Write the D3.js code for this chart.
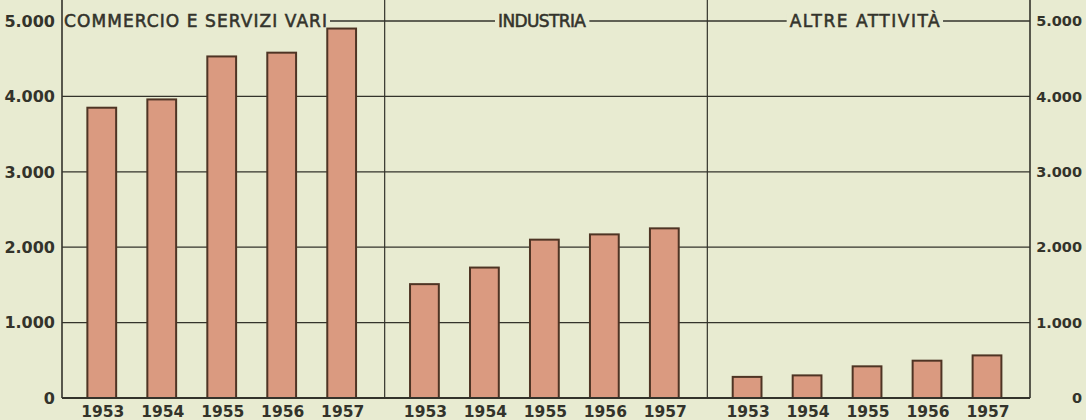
<!DOCTYPE html>
<html><head><meta charset="utf-8">
<script src="https://cdn.jsdelivr.net/npm/d3@7"></script>
<style>
html,body{margin:0;padding:0;background:#e8ebd1;}
svg{display:block;}
</style></head>
<body>
<svg id="chart" width="1086" height="420"></svg>
<script>
// ---- data ----
const panels = ["COMMERCIO E SERVIZI VARI", "INDUSTRIA", "ALTRE ATTIVITÀ"];
const years = ["1953", "1954", "1955", "1956", "1957"];
const commercio = [3850, 3960, 4530, 4580, 4900];
const industria = [1510, 1730, 2100, 2170, 2250];
const altre = [280, 300, 420, 495, 565];
const yTicks = [0, 1000, 2000, 3000, 4000, 5000];
const tickLabels = ["0", "1.000", "2.000", "3.000", "4.000", "5.000"];

const seriesByPanel = [commercio, industria, altre];

const W = 1086, H = 420;
const left = 62, right = 1030, base = 398, top5000 = 21;
const bg = "#e8ebd1", ink = "#33332b", barFill = "#da9a80", barStroke = "#4e3424";

const svg = d3.select("#chart");
svg.append("rect").attr("width", W).attr("height", H).attr("fill", bg);

const y = d3.scaleLinear().domain([0, 5000]).range([base, top5000]);
const xp = d3.scaleBand().domain(panels).range([left, right]).padding(0);
const xi = d3.scaleBand().domain(years).range([0, xp.bandwidth()])
  .paddingInner(0.52).paddingOuter(0.45).align(0.47);

// gridlines
svg.append("g").selectAll("line").data(yTicks.filter(d => d > 0)).join("line")
  .attr("x1", left).attr("x2", right)
  .attr("y1", d => y(d)).attr("y2", d => y(d))
  .attr("stroke", ink).attr("stroke-width", 1.3);

// panel headers with background knockout
const headerLen = [263, 88, 150];
const hdr = svg.append("g");
panels.forEach((p, i) => {
  const g = hdr.append("g");
  const t = g.append("text")
    .attr("y", 27)
    .attr("font-family", "DejaVu Sans, sans-serif")
    .attr("font-size", 17)
    .attr("fill", ink)
    .attr("stroke", ink)
    .attr("stroke-width", 0.55)
    .attr("textLength", headerLen[i])
    .attr("lengthAdjust", "spacing")
    .text(p);
  let x;
  if (i === 0) { x = xp(p) + 2; t.attr("x", x).attr("text-anchor", "start"); }
  else { x = xp(p) + xp.bandwidth() / 2 - 4; t.attr("x", x).attr("text-anchor", "middle"); }
  const bb = t.node().getBBox();
  g.insert("rect", "text")
    .attr("x", bb.x - 3).attr("y", 14).attr("width", bb.width + 6).attr("height", 14)
    .attr("fill", bg);
});

// bars
panels.forEach((p, i) => {
  const g = svg.append("g").attr("transform", `translate(${xp(p)},0)`);
  g.selectAll("rect").data(seriesByPanel[i]).join("rect")
    .attr("x", (d, j) => xi(years[j]))
    .attr("width", xi.bandwidth())
    .attr("y", d => y(d))
    .attr("height", d => y(0) - y(d))
    .attr("fill", barFill)
    .attr("stroke", barStroke)
    .attr("stroke-width", 2);
  g.selectAll("text").data(years).join("text")
    .attr("x", d => xi(d) + xi.bandwidth() / 2 + 1)
    .attr("y", 417)
    .attr("text-anchor", "middle")
    .attr("font-family", "DejaVu Sans, sans-serif")
    .attr("font-weight", "bold")
    .attr("font-size", 15.5)
    .attr("fill", ink)
    .text(d => d);
});

// vertical lines: axes and separators
const vx = [left, xp(panels[1]), xp(panels[2]), right];
svg.append("g").selectAll("line").data(vx).join("line")
  .attr("x1", d => d).attr("x2", d => d)
  .attr("y1", 0).attr("y2", base)
  .attr("stroke", ink)
  .attr("stroke-width", (d, i) => (i === 0 || i === 3) ? 1.6 : 1.2);

// baseline
svg.append("line").attr("x1", left).attr("x2", right)
  .attr("y1", base).attr("y2", base)
  .attr("stroke", ink).attr("stroke-width", 2.2);

// left tick labels
svg.append("g").selectAll("text").data(yTicks).join("text")
  .attr("x", 55).attr("y", d => y(d)).attr("dy", "0.36em")
  .attr("text-anchor", "end")
  .attr("font-family", "DejaVu Sans, sans-serif")
  .attr("font-weight", "bold").attr("font-size", 16)
  .attr("fill", ink)
  .text((d, i) => tickLabels[i]);

// right tick labels
svg.append("g").selectAll("text").data(yTicks).join("text")
  .attr("x", 1082).attr("y", d => y(d)).attr("dy", "0.36em")
  .attr("text-anchor", "end")
  .attr("font-family", "DejaVu Sans, sans-serif")
  .attr("font-weight", "bold").attr("font-size", 14.5)
  .attr("fill", ink)
  .text((d, i) => tickLabels[i]);
</script>
</body></html>
